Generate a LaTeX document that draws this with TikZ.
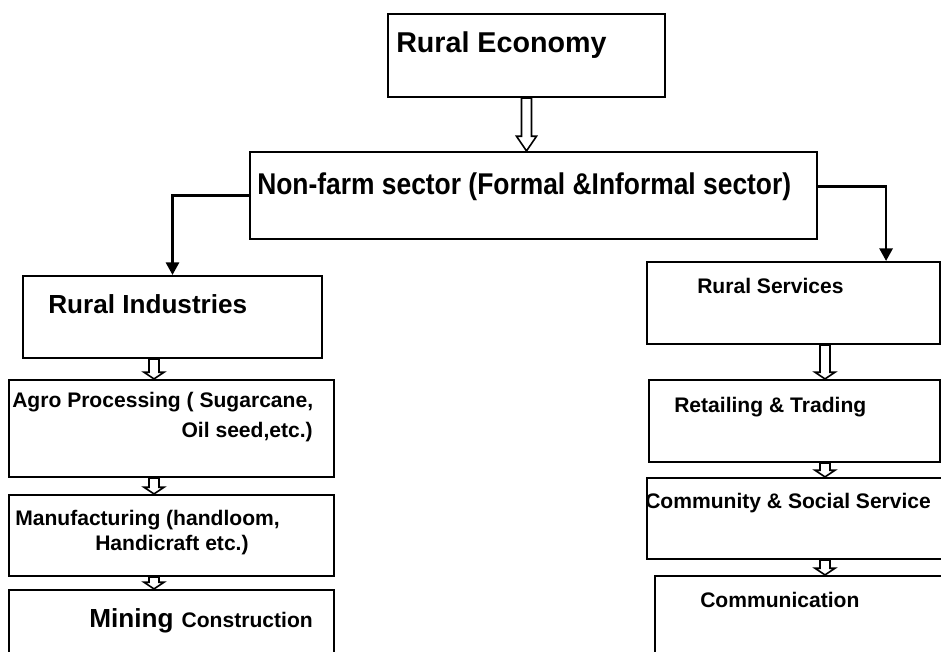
\documentclass[tikz,border=0pt]{standalone}
\usepackage{fontspec}
\setmainfont{Liberation Sans}
\usetikzlibrary{
  arrows.meta,
  calc,
  fit
}
\tikzset{
  % Kutular
  box/.style      = {draw, line width=1.6pt, inner sep=0pt, rectangle},
  % Yazilar
  lab/.style      = {inner sep=0pt, anchor=base west, font=\bfseries\fontsize{15.8}{19}\selectfont},
  labbig/.style   = {lab, font=\bfseries\fontsize{19.6}{23}\selectfont},
  % Baglantilar
  conn/.style     = {line width=1.6pt, -{Triangle[length=9.5pt,width=10pt]}},
  hollow/.style   = {draw, line width=1.2pt, fill=white, to path={
      let \p1=(\tikztostart), \p2=(\tikztotarget) in
      (\x1-3.75pt,\y1) -- (\x1-3.75pt,\y2+#1) -- (\x1-7.5pt,\y2+#1) -- (\x1,\y2)
      -- (\x1+7.5pt,\y2+#1) -- (\x1+3.75pt,\y2+#1) -- (\x1+3.75pt,\y1) -- cycle}},
  hollow/.default = 5pt,
}
\begin{document}
\begin{tikzpicture}[x=0.75pt, y=-0.75pt]
  \useasboundingbox (0,0) rectangle (941,652);
  \clip (0,0) rectangle (941,652);
  % arrow columns
  \coordinate (lc) at (154,0);
  \coordinate (rc) at (825,0);
  % Boxes
  \node[box, fit={(388,14) (665,97)}] (eco) {};
  \node[box, fit={(250,152) (817,239)}] (nonfarm) {};
  \node[box, fit={(23,276) (322,358)}] (ind) {};
  \node[box, fit={(9,380) (334,477)}] (agro) {};
  \node[box, fit={(9,495) (334,576)}] (manu) {};
  \node[box, fit={(9,590) (334,700)}] (mining) {};
  \node[box, fit={(647,262) (940,344)}] (serv) {};
  \node[box, fit={(649,380) (940,462)}] (retail) {};
  \node[box, fit={(647,478) (980,559)}] (comm) {};
  \node[box, fit={(655,576) (980,700)}] (commn) {};
  % Labels
  \node[lab, font=\bfseries\fontsize{21.5}{25}\selectfont] (tEco) at (396,53) {Rural Economy};
  \node[lab, font=\bfseries\fontsize{22.5}{26}\selectfont] (tNonfarm) at (257,195)
    {\scalebox{0.88}[1]{Non-farm sector (Formal \&Informal sector)}};
  \node[labbig] (tInd) at (48,313) {Rural Industries};
  \node[lab] (tAgroA) at (12,407) {Agro Processing ( Sugarcane,};
  \node[lab, anchor=base east] (tAgroB) at (313,437) {Oil seed,etc.)};
  \node[lab] (tManuA) at (15,525) {Manufacturing (handloom,};
  \node[lab] (tManuB) at (95,550) {Handicraft etc.)};
  \node[labbig] (tMining) at (89,627) {Mining};
  \node[lab, anchor=base east] (tCons) at (313,627) {Construction};
  \node[lab] (tServ) at (697,293) {Rural Services};
  \node[lab] (tRetail) at (674,412) {Retailing \& Trading};
  \node[lab] (tComm) at (645,508) {Community \& Social Service};
  \node[lab] (tCommn) at (700,607) {Communication};
  % Hollow arrows
  \draw[hollow=11pt] (eco.south) to (eco.south |- nonfarm.north);
  \draw[hollow] (ind.south -| lc) to (agro.north -| lc);
  \draw[hollow] (agro.south -| lc) to (manu.north -| lc);
  \draw[hollow] (manu.south -| lc) to (mining.north -| lc);
  \draw[hollow] (serv.south -| rc) to (retail.north -| rc);
  \draw[hollow] (retail.south -| rc) to (comm.north -| rc);
  \draw[hollow] (comm.south -| rc) to (commn.north -| rc);
  % Branch connectors
  \draw[conn] (nonfarm.west) -| (ind.north);
  \draw[conn] ([yshift=6.75pt]nonfarm.east) -| ([xshift=-41.25pt]serv.north east);
\end{tikzpicture}
\end{document}
